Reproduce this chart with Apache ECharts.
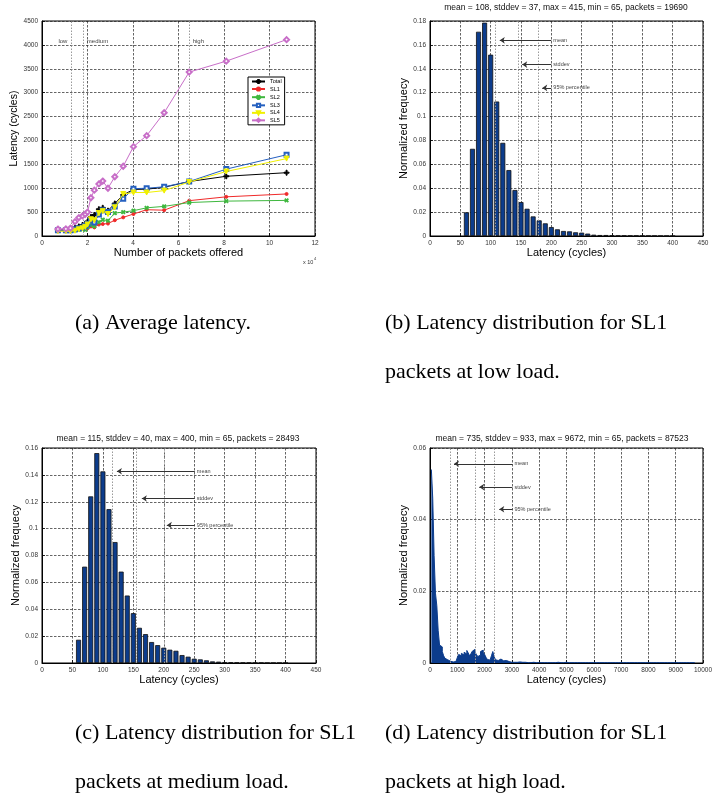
<!DOCTYPE html>
<html>
<head>
<meta charset="utf-8">
<script src="https://cdn.jsdelivr.net/npm/echarts@6/dist/echarts.min.js"></script>
<style>
  html, body { margin: 0; padding: 0; background: #fff; }
  #c { width: 715px; height: 810px; }
</style>
</head>
<body>
<div id="c"></div>
<script>
// ---------- (a) average latency vs. offered load (x 10^4 packets) ----------
const offered  = [0.7, 1.05, 1.25, 1.45, 1.62, 1.78, 1.9, 2.0, 2.15, 2.3, 2.5, 2.67, 2.9, 3.2, 3.57, 4.02, 4.6, 5.37, 6.47, 8.1, 10.75];
const latTotal = [130, 125, 140, 170, 200, 230, 260, 300, 400, 440, 560, 590, 530, 680, 860, 975, 980, 1020, 1140, 1250, 1325];
const latSL1   = [120, 115, 120, 130, 140, 150, 150, 160, 200, 180, 240, 250, 260, 330, 390, 460, 550, 540, 740, 820, 880];
const latSL2   = [110, 110, 110, 120, 130, 140, 130, 180, 230, 200, 290, 340, 320, 480, 500, 530, 590, 620, 700, 730, 745];
const latSL3   = [120, 120, 120, 140, 160, 180, 210, 250, 330, 280, 450, 540, 500, 620, 780, 990, 1000, 1030, 1140, 1400, 1700];
const latSL4   = [100, 100, 100, 110, 140, 160, 190, 240, 350, 330, 480, 520, 460, 600, 880, 910, 910, 950, 1130, 1350, 1620];
const latSL5   = [145, 150, 165, 300, 385, 420, 455, 500, 800, 960, 1090, 1150, 1000, 1240, 1460, 1870, 2100, 2580, 3430, 3660, 4110];
const seriesNames = ['Total', 'SL1', 'SL2', 'SL3', 'SL4', 'SL5'];
const loadBounds  = [1.27, 1.8, 6.47];
const loadNames   = ['low', 'medium', 'high'];
const loadNameX   = [0.7, 1.95, 6.6];
const loadNameY   = 4080;

// ---------- (b) SL1 latency histogram, low load ----------
const binsLow  = [60,70,80,90,100,110,120,130,140,150,160,170,180,190,200,210,220,230,240,250,260,270,280,290,300,310,320,330,340,350,360,370,380,390,400];
const freqLow  = [0.0198,0.073,0.171,0.1786,0.1518,0.1126,0.078,0.0552,0.0385,0.0284,0.0228,0.0164,0.0131,0.0106,0.0075,0.0056,0.0042,0.0039,0.0031,0.0028,0.0020,0.0011,0.0008,0.0008,0.0006,0.0004,0.0004,0.0003,0.0003,0.0002,0.0002,0.0002,0.0001,0.0001,0.0001];
const statsLow = { title: 'mean = 108, stddev = 37, max = 415, min = 65, packets = 19690', mean: 108, stddev: 145, p95: 179 };

// ---------- (c) SL1 latency histogram, medium load ----------
const binsMed  = [60,70,80,90,100,110,120,130,140,150,160,170,180,190,200,210,220,230,240,250,260,270,280,290,300,310,320,330,340,350,360,370,380,390,400];
const freqMed  = [0.0173,0.0717,0.124,0.1562,0.1426,0.1145,0.090,0.068,0.0502,0.0371,0.0262,0.0215,0.0156,0.0133,0.0114,0.0099,0.0091,0.0059,0.0047,0.0032,0.0027,0.002,0.0012,0.001,0.0007,0.0005,0.0004,0.0003,0.0003,0.0002,0.0002,0.0001,0.0001,0.0001,0.0001];
const statsMed = { title: 'mean = 115, stddev = 40, max = 400, min = 65, packets = 28493', mean: 115, stddev: 155, p95: 200 };

// ---------- (d) SL1 latency histogram, high load ----------
// 50-cycle bins from 50 to 3000, then 100-cycle bins up to 9700
const freqHighHead = [0.054,0.046,0.030,0.0195,0.016,0.009,0.005,0.0045,0.0032,0.002,
                      0.0013,0.0009,0.0006,0.0005,0.0004,0.0003,0.0003,0.0004,0.0006,0.0015,
                      0.0024,0.0020,0.0027,0.0022,0.0030,0.0025,0.0035,0.0028,0.0020,0.0026,
                      0.0033,0.0038,0.0030,0.0024,0.0018,0.0022,0.0032,0.0036,0.0030,0.0024,
                      0.0016,0.0010,0.0008,0.0009,0.0020,0.0032,0.0018,0.0009,0.0007,0.0008,
                      0.0011,0.0009,0.0006,0.0009,0.0007,0.0005,0.0004,0.0003,0.0002];
const freqHighTail = [0.0002,0.0002,0.0003,0.0002,0.0002,0.0001,0.0001,0.0002,0.0001,0.0001,
                      0.0001,0.0001,0.0001,0.0001,0.0001,0.0001,0.0002,0.0001,0.0001,0.0002,
                      0.0001,0.0001,0.0001,0.0001,0.0001,0.0001,0.0001,0.0001,0.0001,0.0001,
                      0.0001,0.0001,0.0001,0.0001,0.0001,0.0001,0.0001,0.0001,0.0001,0.0001,
                      0.0001,0.0001,0.0001,0.0001,0.0001,0.0001,0.0001,0.0001,0.0001,0.0001,
                      0.0001,0.0001,0.0001,0.0001,0.0001,0.0001,0.0001,0.0001,0.0001,0.0001,
                      0.0001,0.0001,0.0001,0.0001,0.0001,0.0001,0.0001];
const statsHigh = { title: 'mean = 735, stddev = 933, max = 9672, min = 65, packets = 87523', mean: 735, stddev: 1668, p95: 2354 };

// ---------- captions ----------
const captions = [
  ['(a) Average latency.'],
  ['(b) Latency distribution for SL1', 'packets at low load.'],
  ['(c) Latency distribution for SL1', 'packets at medium load.'],
  ['(d) Latency distribution for SL1', 'packets at high load.']
];

// ---------- styling ----------
const SANS  = 'Liberation Sans, Arial, Helvetica, sans-serif';
const SERIF = 'Liberation Serif, Times New Roman, serif';
const BAR_BLUE = '#0c3c8c';
const PLUS = 'path://M4,0H6V4H10V6H6V10H4V6H0V4H4Z';

const lineStyles = {
  Total: { color: '#000000', symbol: PLUS, size: 5, rotate: 0 },
  SL1:   { color: '#f02a2a', symbol: 'circle', size: 3, rotate: 0 },
  SL2:   { color: '#3fb83f', symbol: PLUS, size: 4, rotate: 45 },
  SL3:   { color: '#2560c0', symbol: 'emptyRect', size: 4, rotate: 0 },
  SL4:   { color: '#f0f000', symbol: 'triangle', size: 5, rotate: 180 },
  SL5:   { color: '#c86ec8', symbol: 'emptyDiamond', size: 5, rotate: 0 }
};

const grids = [
  { left: 42,  top: 21,  width: 273, height: 215 },
  { left: 430, top: 21,  width: 273, height: 215 },
  { left: 42,  top: 448, width: 274, height: 215 },
  { left: 430, top: 448, width: 273, height: 215 }
].map(g => Object.assign({ show: true, borderColor: '#000', borderWidth: 1, backgroundColor: '#fff', containLabel: false }, g));

function baseAxis(gi, min, max, interval, name, nameGap, nameSize) {
  return {
    type: 'value', gridIndex: gi, min, max, interval,
    name, nameLocation: 'middle', nameGap,
    nameTextStyle: { fontFamily: SANS, fontSize: nameSize, color: '#000' },
    axisLine: { show: true, onZero: false, lineStyle: { color: '#000', width: 1 } },
    axisTick: { show: true, inside: true, length: 3, lineStyle: { color: '#000', width: 0.8 } },
    axisLabel: { fontFamily: SANS, fontSize: 6.5, color: '#333', margin: 4, formatter: v => String(v) },
    splitLine: { show: true, lineStyle: { color: '#222', width: 0.7, type: [2.5, 1.5] } }
  };
}

function statMarks(stats, arrowFromX, arrowTips, arrowYs) {
  const vLine = v => ({ xAxis: v, label: { show: false },
    lineStyle: { color: '#9a9a9a', width: 1, type: [1.5, 1.5] } });
  const names = ['mean', 'stddev', '95% percentile'];
  const arrows = names.map((n, i) => [
    { coord: [arrowFromX, arrowYs[i]], name: n, symbol: 'none' },
    { coord: [arrowTips[i], arrowYs[i]], symbol: 'arrow', symbolSize: 5 }
  ]);
  return {
    silent: true, animation: false, symbol: 'none',
    lineStyle: { color: '#333', width: 1, type: 'solid' },
    label: { show: true, position: 'start', distance: 2, formatter: '{b}',
             fontFamily: SANS, fontSize: 5.5, color: '#444' },
    data: [vLine(stats.mean), vLine(stats.stddev), vLine(stats.p95)].concat(arrows)
  };
}

// (d) as a stepped area through left bin edges
function highLoadSteps() {
  const pts = [];
  freqHighHead.forEach((v, i) => pts.push([50 + i * 50, v]));
  freqHighTail.forEach((v, i) => pts.push([3000 + i * 100, v]));
  pts.push([3000 + freqHighTail.length * 100, 0]);
  return pts;
}

const xAxes = [
  baseAxis(0, 0, 12, 2, 'Number of packets offered', 10, 11),
  baseAxis(1, 0, 450, 50, 'Latency (cycles)', 11, 11),
  baseAxis(2, 0, 450, 50, 'Latency (cycles)', 11, 11),
  baseAxis(3, 0, 10000, 1000, 'Latency (cycles)', 11, 11)
];
const yAxes = [
  baseAxis(0, 0, 4500, 500, 'Latency (cycles)', 21, 10.5),
  baseAxis(1, 0, 0.18, 0.02, 'Normalized frequecy', 17, 11),
  baseAxis(2, 0, 0.16, 0.02, 'Normalized frequecy', 18, 11),
  baseAxis(3, 0, 0.06, 0.02, 'Normalized frequecy', 17, 11)
];

const latencyData = [latTotal, latSL1, latSL2, latSL3, latSL4, latSL5];
const series = seriesNames.map((n, k) => {
  const st = lineStyles[n];
  const s = {
    name: n, type: 'line', xAxisIndex: 0, yAxisIndex: 0,
    data: offered.map((x, i) => [x, latencyData[k][i]]),
    symbol: st.symbol, symbolSize: st.size, symbolRotate: st.rotate, showAllSymbol: true,
    lineStyle: { color: st.color, width: 1 },
    itemStyle: { color: st.color, borderColor: st.color, borderWidth: 1 },
    z: 3 + k
  };
  if (k === 0) {
    s.markLine = {
      silent: true, symbol: 'none', label: { show: false }, animation: false,
      lineStyle: { color: '#9a9a9a', width: 1, type: [1.5, 1.5] },
      data: loadBounds.map(v => ({ xAxis: v }))
    };
    s.markPoint = {
      silent: true, animation: false, symbol: 'circle', symbolSize: 1,
      itemStyle: { color: 'rgba(0,0,0,0)' },
      label: { show: true, position: 'right', distance: 0, formatter: '{b}',
               fontFamily: SANS, fontSize: 6, color: '#444' },
      data: loadNames.map((t, i) => ({ name: t, coord: [loadNameX[i], loadNameY] }))
    };
  }
  return s;
});

series.push({
  type: 'bar', xAxisIndex: 1, yAxisIndex: 1,
  data: binsLow.map((x, i) => [x, freqLow[i]]),
  barWidth: 5, itemStyle: { color: BAR_BLUE, borderColor: '#111', borderWidth: 0.8 },
  markLine: statMarks(statsLow, 200, [115, 152, 185], [0.1638, 0.1435, 0.124])
});
series.push({
  type: 'bar', xAxisIndex: 2, yAxisIndex: 2,
  data: binsMed.map((x, i) => [x, freqMed[i]]),
  barWidth: 5, itemStyle: { color: BAR_BLUE, borderColor: '#111', borderWidth: 0.8 },
  markLine: statMarks(statsMed, 251, [123, 164, 205], [0.1427, 0.1224, 0.1026])
});
series.push({
  type: 'line', xAxisIndex: 3, yAxisIndex: 3, step: 'end', symbol: 'none',
  data: highLoadSteps(),
  lineStyle: { color: BAR_BLUE, width: 1 },
  areaStyle: { color: BAR_BLUE, opacity: 1 },
  markLine: statMarks(statsHigh, 3020, [880, 1805, 2537], [0.0556, 0.0491, 0.0429])
});

// Text: panel titles, captions, exponent
const graphics = [];
const titleSpots = [[statsLow.title, 566, 8], [statsMed.title, 178, 439], [statsHigh.title, 562, 439]];
titleSpots.forEach(([t, x, y]) => graphics.push({
  type: 'text', x, y, silent: true,
  style: { text: t, font: '8.5px ' + SANS, fill: '#111', align: 'center', verticalAlign: 'middle' }
}));
graphics.push({ type: 'text', x: 303, y: 262, silent: true,
  style: { text: 'x 10', font: '5.5px ' + SANS, fill: '#333', verticalAlign: 'middle' } });
graphics.push({ type: 'text', x: 314, y: 259, silent: true,
  style: { text: '4', font: '4px ' + SANS, fill: '#333', verticalAlign: 'middle' } });

const CAP_FONT = '22px ' + SERIF;
const captionSpots = [[75, 323], [385, 323], [75, 733], [385, 733]];
captions.forEach((lines, i) => lines.forEach((line, j) => graphics.push({
  type: 'text', x: captionSpots[i][0], y: captionSpots[i][1] + j * 49, silent: true,
  style: { text: line, font: CAP_FONT, fill: '#000', verticalAlign: 'middle' }
})));

const chart = echarts.init(document.getElementById('c'), null, { renderer: 'canvas' });
chart.setOption({
  animation: false,
  backgroundColor: '#fff',
  grid: grids,
  xAxis: xAxes,
  yAxis: yAxes,
  legend: {
    left: 248, top: 77, orient: 'vertical',
    itemWidth: 13, itemHeight: 4, itemGap: 1.5, padding: [1.5, 3, 1.5, 3],
    borderColor: '#000', borderWidth: 1, backgroundColor: '#fff',
    textStyle: { fontFamily: SANS, fontSize: 5.5, color: '#000' },
    data: seriesNames
  },
  series,
  graphic: graphics
});
</script>
</body>
</html>
